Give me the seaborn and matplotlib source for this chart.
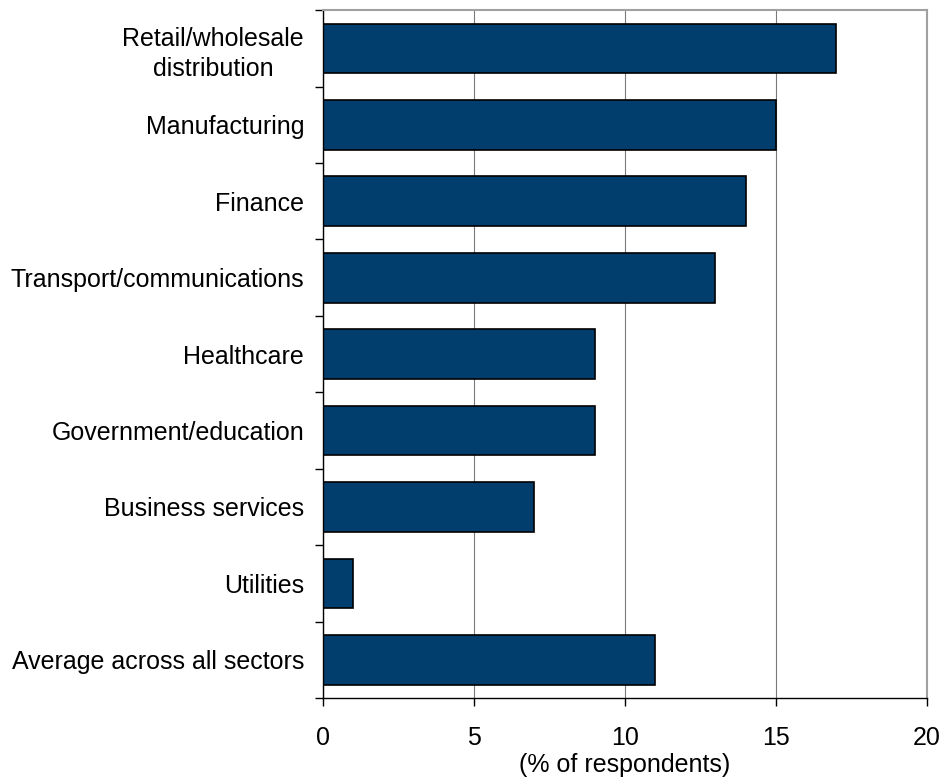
import matplotlib
matplotlib.use("Agg")
import matplotlib.pyplot as plt
from matplotlib.ticker import FixedLocator
import seaborn as sns
import pandas as pd
import numpy as np

sectors = [
    "Retail/wholesale\ndistribution",
    "Manufacturing",
    "Finance",
    "Transport/communications",
    "Healthcare",
    "Government/education",
    "Business services",
    "Utilities",
    "Average across all sectors",
]
shares = [17, 15, 14, 13, 9, 9, 7, 1, 11]
x_ticks = [0, 5, 10, 15, 20]
x_label = "(% of respondents)"

sns.set_theme(style="white")
plt.rcParams["font.family"] = ["Liberation Sans", "DejaVu Sans"]
plt.rcParams["text.color"] = "black"
plt.rcParams["xtick.color"] = "black"
plt.rcParams["ytick.color"] = "black"
plt.rcParams["axes.labelcolor"] = "black"

FS = 18

df = pd.DataFrame({"sector": sectors, "share": shares})

fig = plt.figure(figsize=(9.41, 7.80), dpi=100)
ax = fig.add_axes([0.343, 0.105, 0.642, 0.882])

sns.barplot(data=df, x="share", y="sector", orient="h", color="#023e6d",
            saturation=1, edgecolor="black", linewidth=1.2, width=0.65, ax=ax)

ax.set_xlim(0, 20)
ax.set_ylim(len(sectors) - 0.5, -0.5)
ax.set_xticks(x_ticks)
ax.set_xticklabels([str(t) for t in x_ticks], fontsize=FS)
ax.set_xlabel(x_label, fontsize=FS, labelpad=2)
ax.set_ylabel("")

# category labels without marks; marks sit on the category boundaries
ax.tick_params(axis="y", which="major", length=0, labelsize=FS, pad=13.5)
ax.yaxis.set_minor_locator(FixedLocator(np.arange(-0.5, len(sectors), 1.0)))
ax.tick_params(axis="y", which="minor", length=6, width=1, color="black", left=True)
ax.tick_params(axis="x", which="major", length=6, width=1, color="black", bottom=True,
               labelsize=FS, pad=14)

for lbl in ax.get_yticklabels():
    lbl.set_horizontalalignment("right")
    lbl.set_multialignment("center")
    lbl.set_linespacing(1.3)

ax.xaxis.grid(True, color="#7a7a7a", linewidth=0.8)
ax.set_axisbelow(True)

for side in ["left", "bottom"]:
    ax.spines[side].set_color("black")
    ax.spines[side].set_linewidth(1.0)
for side in ["top", "right"]:
    ax.spines[side].set_visible(True)
    ax.spines[side].set_color("#a0a0a0")
    ax.spines[side].set_linewidth(1.5)

fig.savefig("out.png", dpi=100, facecolor="white")
